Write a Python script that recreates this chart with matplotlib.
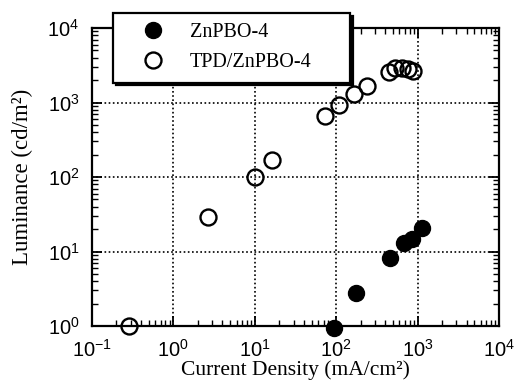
import matplotlib
matplotlib.use("Agg")
import matplotlib.pyplot as plt
from matplotlib.ticker import LogLocator, NullFormatter

# ZnPBO-4 single layer device
zn_current = [95, 173, 453, 673, 850, 1120]
zn_lum = [0.95, 2.8, 8.2, 13, 14.5, 21]

# TPD/ZnPBO-4 double layer device
tpd_current = [0.29, 2.65, 10, 16.2, 72, 107, 164, 237, 440, 523, 637, 754, 869]
tpd_lum = [1.0, 29, 100, 169, 660, 925, 1300, 1665, 2570, 2900, 2900, 2820, 2650]

SERIF = ["Liberation Serif", "DejaVu Serif"]

plt.rcParams["font.family"] = ["Liberation Sans", "DejaVu Sans"]
plt.rcParams["mathtext.fontset"] = "custom"
plt.rcParams["mathtext.rm"] = "Liberation Sans"
plt.rcParams["mathtext.it"] = "Liberation Sans:italic"
plt.rcParams["mathtext.bf"] = "Liberation Sans:bold"

fig = plt.figure(figsize=(5.16, 3.84), dpi=100)
ax = fig.add_axes([0.178, 0.151, 0.789, 0.776])

ax.plot(zn_current, zn_lum, "o", color="black", markersize=11.5,
        label="ZnPBO-4", clip_on=False, zorder=3)
ax.plot(tpd_current, tpd_lum, "o", markerfacecolor="none",
        markeredgecolor="black", markeredgewidth=1.7, markersize=11.5,
        label="TPD/ZnPBO-4", clip_on=False, zorder=3)

ax.set_xscale("log")
ax.set_yscale("log")
ax.set_xlim(0.1, 1e4)
ax.set_ylim(1, 1e4)

ax.xaxis.set_major_locator(LogLocator(base=10, numticks=10))
ax.yaxis.set_major_locator(LogLocator(base=10, numticks=10))
ax.xaxis.set_minor_locator(LogLocator(base=10, subs=range(2, 10), numticks=10))
ax.yaxis.set_minor_locator(LogLocator(base=10, subs=range(2, 10), numticks=10))
ax.xaxis.set_minor_formatter(NullFormatter())
ax.yaxis.set_minor_formatter(NullFormatter())

ax.tick_params(which="both", direction="in", top=True, right=True)
ax.tick_params(which="major", length=7, width=1.3, labelsize=14.5)
ax.tick_params(axis="x", which="major", pad=9)
ax.tick_params(axis="y", which="major", pad=9)
ax.tick_params(which="minor", length=4, width=1.0)

for side in ax.spines.values():
    side.set_linewidth(1.6)

ax.grid(True, which="major", color="black", linestyle=(0, (1, 1.5)),
        linewidth=1.2)

ax.set_xlabel("Current Density (mA/cm²)", family=SERIF, fontsize=15.5,
              labelpad=0)
ax.set_ylabel("Luminance (cd/m²)", family=SERIF, fontsize=16.5, labelpad=10)

# legend box straddles the top edge of the axes
leg = ax.legend(loc="upper left", bbox_to_anchor=(0.052, 0.5, 0.582, 0.55),
                mode="expand", prop={"family": SERIF, "size": 14.5},
                frameon=True, fancybox=False,
                shadow={"color": "black", "alpha": 1},
                borderpad=0.5, labelspacing=0.55, handlelength=3.0,
                handletextpad=0.3, borderaxespad=0)
leg.get_frame().set_edgecolor("black")
leg.get_frame().set_linewidth(1.6)
leg.set_zorder(5)

fig.savefig("out.png", dpi=100)
